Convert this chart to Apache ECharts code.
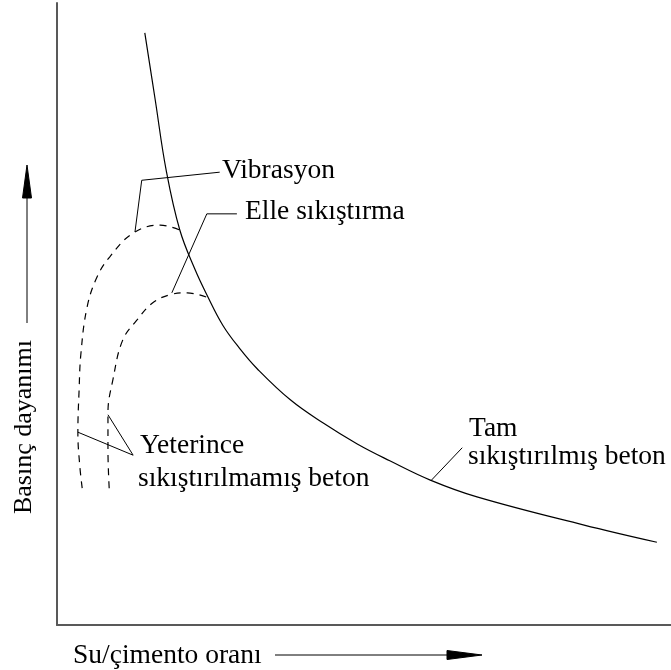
<!DOCTYPE html>
<html lang="tr">
<head>
    <meta charset="UTF-8">
    <title>Basınç dayanımı - Su/çimento oranı</title>
    <script src="https://cdn.jsdelivr.net/npm/echarts@6/dist/echarts.min.js"></script>
    <style>
        *{
            margin: 0;
            padding: 0;
        }
        html, body{
            width: 100%;
            height: 100%;
            overflow: hidden;
            background: #fff;
        }
        .container{
            width: 671px;
            height: 670px;
        }
    </style>
</head>
<body>
<div class="container"></div>
<script>
    // values, both axes on a 0-100 relative scale
    let fullCompaction=[[14.3,95.2],[16.0,84.4],[17.8,73.0],[20.0,63.5],[22.5,57.1],[24.4,53.1],[27.0,48.2],
        [29.8,44.4],[32.6,41.2],[38.0,36.2],[43.3,32.5],[48.9,29.1],[54.2,26.4],[60.8,23.3],[68.4,20.6],
        [85.7,16.1],[97.7,13.3]];
    let vibration=[[4.1,22.0],[3.7,25.7],[3.4,30.9],[3.6,37.8],[3.9,43.7],[4.9,51.1],[6.5,55.9],
        [8.6,59.2],[12.4,63.0],[16.8,64.3],[20.0,63.5]];
    let handCompaction=[[8.5,22.0],[8.3,28.1],[8.3,34.1],[9.1,39.4],[10.7,45.8],[13.0,49.0],[15.6,51.8],
        [18.4,53.1],[21.2,53.4],[24.4,52.7]];
    // leader lines to the labels
    let vibLeader=[[12.7,63.2],[13.8,71.5],[26.5,72.8]];
    let handLeader=[[18.7,53.4],[24.4,66.1],[29.3,66.1]];
    let poorLeader=[[3.4,31.0],[12.4,27.3],[8.3,33.8]];
    let fullLeader=[[60.9,23.2],[66.0,28.5]];

    let serif='Liberation Serif';

    let container=document.querySelector('.container');
    let mycharts=echarts.init(container);

    function lineSeries(data,dashed) {
        return {
            type:'line',
            data,
            smooth:dashed===null?false:0.4,
            symbol:'none',
            silent:true,
            lineStyle:{
                color:'#000',
                width:dashed===null?1:1.2,
                type:dashed?[7,6]:'solid'
            }
        }
    }

    function text(str,x,y) {
        return {
            type:'text',
            x,y,
            style:{
                text:str,
                fontFamily:serif,
                fontSize:27.5,
                fill:'#000',
                verticalAlign:'middle'
            }
        }
    }

    let options={
        animation:false,
        backgroundColor:'#fff',
        grid:{
            left:57,
            right:0,
            top:3,
            bottom:45
        },
        xAxis:{
            type:'value',
            min:0,
            max:100,
            axisLine:{show:true,lineStyle:{color:'#595959',width:2}},
            axisTick:{show:false},
            axisLabel:{show:false},
            splitLine:{show:false}
        },
        yAxis:{
            type:'value',
            min:0,
            max:100,
            axisLine:{show:true,lineStyle:{color:'#595959',width:2}},
            axisTick:{show:false},
            axisLabel:{show:false},
            splitLine:{show:false}
        },
        series:[
            lineSeries(fullCompaction,false),
            lineSeries(vibration,true),
            lineSeries(handCompaction,true),
            lineSeries(vibLeader,null),
            lineSeries(handLeader,null),
            lineSeries(poorLeader,null),
            lineSeries(fullLeader,null)
        ],
        graphic:[
            text('Vibrasyon',222,171),
            text('Elle sıkıştırma',245,212),
            text('Yeterince',140,446),
            text('sıkıştırılmamış beton',138,479),
            text('Tam',469,429),
            text('sıkıştırılmış beton',468,457),
            text('Su/çimento oranı',73,656),
            {
                type:'text',
                x:24,y:427,
                rotation:Math.PI/2,
                style:{
                    text:'Basınç dayanımı',
                    fontFamily:serif,
                    fontSize:26,
                    fill:'#000',
                    align:'center',
                    verticalAlign:'middle'
                }
            },
            {
                type:'polyline',
                shape:{points:[[275,655],[450,655]]},
                style:{stroke:'#000',lineWidth:1}
            },
            {
                type:'polygon',
                shape:{points:[[447,650.5],[482,655],[447,659.5]]},
                style:{fill:'#000',stroke:'#000',lineWidth:1}
            },
            {
                type:'polyline',
                shape:{points:[[27,323],[27,195]]},
                style:{stroke:'#000',lineWidth:1}
            },
            {
                type:'polygon',
                shape:{points:[[22.5,198],[27,165],[31.5,198]]},
                style:{fill:'#000',stroke:'#000',lineWidth:1}
            }
        ]
    };

    mycharts.setOption(options);
</script>
</body>
</html>
